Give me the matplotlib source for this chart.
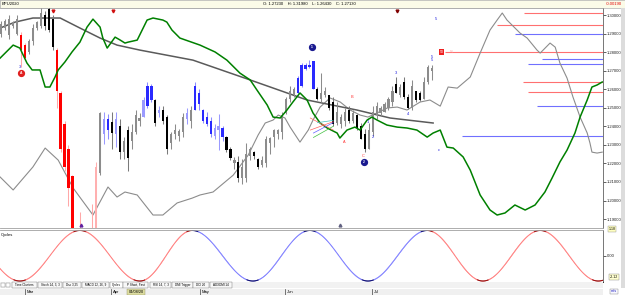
import numpy as np
import matplotlib
matplotlib.use("Agg")
import matplotlib.pyplot as plt
from matplotlib.patches import Rectangle

plt.rcParams['font.family'] = ['Liberation Sans', 'DejaVu Sans']

# ---------------- data ----------------
symbol = "BPU2020"
header_ohlc = "O: 1.27230    H: 1.31980    L: 1.26430    C: 1.27130"
header_change = "-0.00190"

opens = [1.290, 1.293, 1.298, 1.294, 1.298, 1.289, 1.284, 1.280, 1.286, 1.293,
         1.294, 1.300, 1.303, 1.298, 1.281, 1.258, 1.241, 1.228, 1.213, 1.178,
         1.175, 1.168, 1.172, 1.170, 1.180, 1.215, 1.236, 1.244, 1.2425, 1.236,
         1.240, 1.226, 1.238, 1.232, 1.237, 1.243, 1.245, 1.251, 1.262, 1.254,
         1.247, 1.249, 1.245, 1.231, 1.236, 1.235, 1.237, 1.244, 1.243, 1.249,
         1.258, 1.249, 1.245, 1.243, 1.235, 1.240, 1.239, 1.234, 1.228, 1.220,
         1.221, 1.212, 1.212, 1.224, 1.226, 1.2225, 1.219, 1.220, 1.231, 1.234,
         1.236, 1.237, 1.247, 1.255, 1.257, 1.258, 1.262, 1.271, 1.273, 1.275,
         1.260, 1.255, 1.257, 1.257, 1.253, 1.242, 1.241, 1.243, 1.249, 1.243,
         1.246, 1.240, 1.236, 1.228, 1.237, 1.246, 1.247, 1.248, 1.250, 1.253,
         1.263, 1.257, 1.264, 1.256, 1.250, 1.259, 1.258, 1.2545, 1.264, 1.270]
highs = [1.297, 1.298, 1.300, 1.297, 1.300, 1.291, 1.285, 1.287, 1.295, 1.297,
         1.3037, 1.302, 1.310, 1.300, 1.282, 1.259, 1.243, 1.230, 1.214, 1.183,
         1.194, 1.180, 1.183, 1.198, 1.221, 1.248, 1.2476, 1.2465, 1.2476, 1.2476,
         1.244, 1.234, 1.240, 1.241, 1.249, 1.247, 1.256, 1.264, 1.2626, 1.255,
         1.251, 1.251, 1.246, 1.237, 1.241, 1.2385, 1.247, 1.250, 1.251, 1.264,
         1.260, 1.2492, 1.2476, 1.2449, 1.2412, 1.2465, 1.240, 1.235, 1.229, 1.2235,
         1.224, 1.2225, 1.231, 1.229, 1.2265, 1.223, 1.224, 1.235, 1.234, 1.2385,
         1.2385, 1.2476, 1.256, 1.2615, 1.261, 1.267, 1.274, 1.2743, 1.276, 1.275,
         1.261, 1.269, 1.261, 1.257, 1.256, 1.253, 1.2465, 1.250, 1.251, 1.249,
         1.2465, 1.242, 1.2385, 1.242, 1.251, 1.253, 1.251, 1.253, 1.256, 1.2615,
         1.2668, 1.2626, 1.2668, 1.2572, 1.265, 1.259, 1.259, 1.2668, 1.2733, 1.2733]
lows = [1.288, 1.292, 1.287, 1.293, 1.289, 1.272, 1.276, 1.279, 1.284, 1.292,
        1.293, 1.292, 1.291, 1.281, 1.250, 1.226, 1.216, 1.197, 1.170, 1.150,
        1.160, 1.150, 1.155, 1.160, 1.170, 1.214, 1.2305, 1.233, 1.2278, 1.229,
        1.2225, 1.2225, 1.216, 1.228, 1.236, 1.240, 1.245, 1.250, 1.253, 1.240,
        1.245, 1.241, 1.225, 1.228, 1.233, 1.232, 1.234, 1.241, 1.239, 1.249,
        1.249, 1.242, 1.240, 1.234, 1.233, 1.227, 1.232, 1.226, 1.222, 1.217,
        1.210, 1.209, 1.210, 1.222, 1.2225, 1.217, 1.218, 1.218, 1.225, 1.229,
        1.233, 1.233, 1.2465, 1.253, 1.256, 1.257, 1.261, 1.2706, 1.2716, 1.2599,
        1.254, 1.253, 1.256, 1.249, 1.240, 1.2405, 1.239, 1.240, 1.242, 1.242,
        1.238, 1.233, 1.226, 1.2278, 1.235, 1.244, 1.2455, 1.2475, 1.249, 1.251,
        1.258, 1.256, 1.2545, 1.2492, 1.249, 1.253, 1.2535, 1.2545, 1.263, 1.2652]
closes = [1.295, 1.297, 1.289, 1.296, 1.290, 1.281, 1.277, 1.286, 1.293, 1.296,
          1.301, 1.294, 1.292, 1.283, 1.259, 1.228, 1.218, 1.207, 1.178, 1.160,
          1.168, 1.172, 1.165, 1.178, 1.218, 1.247, 1.244, 1.238, 1.2365, 1.244,
          1.226, 1.232, 1.223, 1.237, 1.246, 1.2445, 1.254, 1.262, 1.254, 1.242,
          1.249, 1.243, 1.228, 1.236, 1.238, 1.2375, 1.245, 1.247, 1.249, 1.262,
          1.252, 1.243, 1.241, 1.236, 1.239, 1.238, 1.234, 1.227, 1.223, 1.222,
          1.212, 1.218, 1.225, 1.228, 1.224, 1.218, 1.222, 1.233, 1.2335, 1.238,
          1.238, 1.246, 1.255, 1.259, 1.260, 1.266, 1.273, 1.273, 1.272, 1.260,
          1.255, 1.258, 1.259, 1.250, 1.241, 1.248, 1.245, 1.248, 1.243, 1.247,
          1.239, 1.233, 1.228, 1.238, 1.248, 1.251, 1.250, 1.252, 1.255, 1.259,
          1.258, 1.261, 1.256, 1.250, 1.262, 1.254, 1.254, 1.264, 1.272, 1.2712]
bar_colors = ("gggggrrggggkkk" "rrrrrrrrrr" "pg"
              "lbklkgkgggl" "bbklkkgggglgbbbbbllbkkgkggg"
              "kk" "ggggggggg" "bbbbb" "kggkkgggkgkkk" "ggggggg" "kgkkgkkggg")

ma_x = [-0.3, 3.5, 8.0, 14.9, 19.9, 25.0, 29.3, 35.1, 48.5, 63.0, 77.4, 90.0, 98.4, 109.3]
ma_y = [1.2930, 1.2962, 1.2984, 1.2984, 1.2930, 1.2876, 1.2838, 1.2811, 1.2757,
        1.2650, 1.2542, 1.2488, 1.2445, 1.2418]

osc_x = [-0.3, 3.0, 8.0, 11.1, 14.4, 18.2, 23.2, 27.0, 29.3, 31.3, 34.4, 38.4, 40.9,
         44.5, 48.3, 50.3, 53.6, 58.7, 62.5, 65.0, 66.8, 68.8, 70.1, 71.8, 73.1, 75.6,
         77.7, 78.9, 80.7, 83.2, 85.8, 88.3, 90.8, 92.8, 95.1, 97.7, 100.2, 102.7,
         106.0, 108.5, 111.1, 113.1, 115.4, 118.7, 121.2, 123.7, 125.5, 126.8, 128.0,
         131.3, 133.1, 135.6, 136.4, 138.9, 140.2, 141.4, 143.2, 144.7, 146.5, 148.3,
         149.0, 149.5, 150.8, 152.1]
osc_y = [1.2127, 1.2057, 1.2181, 1.2283, 1.2218, 1.2067, 1.1922, 1.2073, 1.2019,
         1.2046, 1.2030, 1.1922, 1.1922, 1.1987, 1.2013, 1.2030, 1.2046, 1.2137,
         1.2245, 1.2353, 1.2418, 1.2434, 1.2461, 1.2445, 1.2396, 1.2315, 1.2380,
         1.2434, 1.2504, 1.2553, 1.2531, 1.2488, 1.2461, 1.2450, 1.2472, 1.2499,
         1.2504, 1.2488, 1.2531, 1.2542, 1.2509, 1.2612, 1.2606, 1.2666, 1.2795,
         1.2919, 1.2973, 1.3011, 1.2973, 1.2903, 1.2876, 1.2811, 1.2795, 1.2849,
         1.2827, 1.2741, 1.2660, 1.2558, 1.2450, 1.2364, 1.2310, 1.2261, 1.2256, 1.2261]

green_x = [-0.3, 3.0, 4.7, 6.5, 7.8, 9.8, 11.1, 12.3, 13.6, 14.4, 16.1, 17.9, 19.9,
           21.7, 23.2, 25.0, 25.7, 26.8, 28.8, 30.1, 31.3, 32.1, 34.4, 36.9, 38.4,
           40.9, 41.9, 43.2, 45.2, 50.3, 54.1, 57.1, 60.4, 63.0, 64.7, 67.3, 68.8,
           70.6, 72.3, 73.8, 75.6, 77.4, 78.9, 80.7, 82.5, 85.0, 85.7, 87.5, 89.5,
           90.8, 92.6, 93.8, 95.1, 97.6, 100.2, 102.7, 105.2, 107.8, 109.3, 111.1,
           112.8, 114.4, 116.9, 118.7, 121.2, 123.7, 125.5, 127.5, 130.0, 132.6,
           135.1, 137.6, 139.4, 141.4, 143.2, 145.2, 146.5, 148.3, 149.5, 150.8, 152.1]
green_y = [1.2768, 1.2838, 1.2822, 1.2741, 1.2704, 1.2704, 1.2612, 1.2612, 1.2666,
           1.2704, 1.2747, 1.2801, 1.2854, 1.2935, 1.2978, 1.2935, 1.2876, 1.2822,
           1.2881, 1.2865, 1.2849, 1.2854, 1.2865, 1.2973, 1.2984, 1.2973, 1.2962,
           1.2919, 1.2876, 1.2838, 1.2801, 1.2757, 1.2687, 1.2650, 1.2596, 1.2515,
           1.2450, 1.2445, 1.2488, 1.2531, 1.2580, 1.2542, 1.2472, 1.2418, 1.2391,
           1.2364, 1.2337, 1.2380, 1.2396, 1.2380, 1.2434, 1.2450, 1.2434, 1.2407,
           1.2396, 1.2391, 1.2380, 1.2342, 1.2364, 1.2380, 1.2288, 1.2283, 1.2235,
           1.2164, 1.2030, 1.1949, 1.1922, 1.1933, 1.1976, 1.1949, 1.1976, 1.2046,
           1.2121, 1.2208, 1.2272, 1.2364, 1.2450, 1.2542, 1.2612, 1.2623, 1.2639]

level_start = [132.3, 125.5, 130.0, 112.3, 136.9, 133.3, 132.1, 133.3, 135.6, 116.6]
level_price = [1.3011, 1.2946, 1.2898, 1.2801, 1.2763, 1.2736, 1.2639, 1.2585, 1.2509, 1.2348]
level_kind = ['r', 'r', 'b', 'r', 'b', 'b', 'r', 'r', 'b', 'b']

wave_labels = ['3', '5', '1', '2', '3', '4', '5', '5', 'c']
wave_x = [4.8, 109.0, 92.8, 94.1, 99.9, 103.0, 109.0, 110.1, 110.8]
wave_y = [1.2722, 1.2775, 1.2423, 1.2342, 1.2687, 1.2466, 1.2757, 1.2978, 1.2272]
abc_labels = ['A', 'B', 'C']
abc_x = [86.8, 88.8, 91.6]
abc_y = [1.2315, 1.2558, 1.2240]
circle_labels = ['A', '1', '2']
circle_x = [5.0, 78.7, 91.8]
circle_y = [1.2687, 1.2827, 1.2208]
circle_colors = ['#e02020', '#1a1a90', '#1a1a90']

price_ticks = [1.19, 1.20, 1.21, 1.22, 1.23, 1.24, 1.25, 1.26, 1.27, 1.28, 1.29, 1.30]

cyc_turn_x = [-10.5, 4.7, 19.9, 35.1, 48.3, 63.7, 78.1, 92.8, 107.8, 121.9, 136.4, 151.1, 166.0]
cyc_turn_v = [2.12, -2.12, 2.12, -2.12, 2.12, -2.12, 2.12, -2.12, 2.12, -2.12, 2.12, -2.12, 2.12]
cyc_blue_from, cyc_blue_to = 48.3, 107.8

month_names = ['Mar', 'Apr', 'May', 'Jun', 'Jul']
month_bars = [6.0, 27.8, 50.3, 71.8, 93.8]
cursor_date = '04/08/20'
cursor_bar = 34.1

tab_names = ['Time Clusters', 'Stoch 14, 3, 3', 'Dsc 3,25', 'MACD 12, 26, 9', 'Cycles',
             'P Short, Fast', 'RSI 14, 7, 3', 'DMI Trigger', 'DCI 20', 'ADXDMI 14']

# ---------------- layout helpers ----------------
W, H = 625, 295
fig = plt.figure(figsize=(W / 100, H / 100), dpi=100)
fig.patch.set_facecolor('white')


def box(x0, y0, x1, y1):
    return [x0 / W, 1 - y1 / H, (x1 - x0) / W, (y1 - y0) / H]


def fx(px):
    return px / W


def fy(py):
    return 1 - py / H


XL = (-0.33, 152.3)

# ---------------- header ----------------
hdr = fig.add_axes(box(0, 0, 625, 7.5))
hdr.set_facecolor('#fbfbe8')
hdr.set_xticks([]); hdr.set_yticks([])
for s in hdr.spines.values():
    s.set_color('#b0b0b0'); s.set_linewidth(0.5)
hdr.text(2 / 625, 0.5, symbol, fontsize=3, va='center', ha='left', transform=hdr.transAxes)
hdr.text(263 / 625, 0.5, header_ohlc, fontsize=3, va='center', ha='left', transform=hdr.transAxes)
hdr.text(622 / 625, 0.5, header_change, fontsize=3, va='center', ha='right', color='#e00000',
         transform=hdr.transAxes)

# ---------------- main price panel ----------------
ax = fig.add_axes(box(0, 8, 603, 228))
ax.set_xlim(*XL)
ax.set_ylim(1.1852, 1.3038)
ax.spines['left'].set_visible(False)
ax.spines['top'].set_color('#a0a0a0')
ax.spines['bottom'].set_color('#a0a0a0')
ax.spines['right'].set_color('#606060')
for s in ax.spines.values():
    s.set_linewidth(0.6)
ax.tick_params(axis='x', bottom=False, labelbottom=False)
ax.yaxis.tick_right()
ax.set_yticks(price_ticks)
ax.set_yticklabels(['%.5f' % p for p in price_ticks])
ax.tick_params(axis='y', labelsize=3, length=2, width=0.5, pad=1, colors='#202020')

colmap = {'g': ('#8c8c8c', '#8c8c8c'), 'k': ('#000000', '#7a7a7a'),
          'b': ('#2a2aff', '#8c8cff'), 'l': ('#9a9aff', '#9a9aff'),
          'r': ('#ff0000', '#ffa8a8'), 'p': ('#ffb0b0', '#ffb0b0')}

# horizontal projection levels
for xs, pr, kd in zip(level_start, level_price, level_kind):
    ax.plot([xs, XL[1]], [pr, pr], color='#ff7070' if kd == 'r' else '#7070ff', lw=0.8,
            solid_capstyle='butt', zorder=1)

ax.plot(osc_x, osc_y, color='#8c8c8c', lw=0.8, zorder=2)
ax.plot(ma_x, ma_y, color='#5a5a5a', lw=1.1, zorder=2)

for i, (o, h, l, c, k) in enumerate(zip(opens, highs, lows, closes, bar_colors)):
    body, wick = colmap[k]
    ax.vlines(i, l, h, color=wick, lw=0.75, zorder=3)
    ax.add_patch(Rectangle((i - 0.28, min(o, c)), 0.56, max(abs(c - o), 0.0004),
                           facecolor=body, edgecolor='none', zorder=4))

ax.plot(green_x, green_y, color='#008000', lw=1.1, zorder=5)

# small fan marks
ax.plot([78.2, 84.0], [1.2445, 1.2380], color='#ff6060', lw=0.5, zorder=5)
ax.plot([78.2, 84.0], [1.2380, 1.2425], color='#ff6060', lw=0.5, zorder=5)
ax.plot([79.0, 84.0], [1.2364, 1.2420], color='#6060ff', lw=0.5, zorder=5)
ax.plot([79.0, 84.0], [1.2340, 1.2400], color='#40c040', lw=0.5, zorder=5)
ax.plot([80.0, 84.0], [1.2420, 1.2432], color='#40c0c0', lw=0.5, zorder=5)

# red level label
ax.text(111.5, 1.2801, '50', fontsize=2.6, color='white', ha='center', va='center', zorder=7,
        bbox=dict(boxstyle='square,pad=0.15', fc='#ee2020', ec='none'))
ax.text(113.6, 1.2801, '%', fontsize=2.6, color='#ff9090', ha='left', va='center', zorder=7)

for lab, x, y in zip(wave_labels, wave_x, wave_y):
    ax.text(x, y, lab, fontsize=3, color='#2020e0', ha='center', va='center', zorder=7)
for lab, x, y in zip(abc_labels, abc_x, abc_y):
    ax.text(x, y, lab, fontsize=2.8, color='#ff3030', ha='center', va='center', zorder=7)
for lab, x, y, c in zip(circle_labels, circle_x, circle_y, circle_colors):
    ax.plot(x, y, 'o', ms=4.2, mfc=c, mec=c, zorder=8)
    ax.text(x, y, lab, fontsize=2.4, color='white', ha='center', va='center', zorder=9,
            fontweight='bold')

ax.plot([13.1, 28.3], [1.3023, 1.3023], 'v', ms=2, color='#d01010', zorder=8, ls='none')
ax.plot([100.2], [1.3023], 'v', ms=2, color='#800000', zorder=8)
ax.plot([20.2], [1.1870], '^', ms=2, color='#6020a0', zorder=8)
ax.plot([85.7], [1.1870], '^', ms=2, color='#606080', zorder=8)

# ---------------- cycles panel ----------------
cx = fig.add_axes(box(0, 230, 603, 281.5))
cx.set_xlim(*XL)
cx.set_ylim(-2.16, 2.16)
cx.spines['left'].set_visible(False)
cx.spines['top'].set_color('#a0a0a0')
cx.spines['bottom'].set_color('#202020')
cx.spines['right'].set_color('#606060')
for s in cx.spines.values():
    s.set_linewidth(0.6)
cx.tick_params(axis='x', bottom=False, labelbottom=False)
cx.yaxis.tick_right()
cx.set_yticks([0])
cx.set_yticklabels(['0.00'])
cx.tick_params(axis='y', labelsize=3, length=2, width=0.5, pad=1, colors='#202020')
cx.text(0.002, 0.90, 'Cycles', fontsize=3, ha='left', va='center', transform=cx.transAxes)

for j in range(len(cyc_turn_x) - 1):
    x0, x1 = cyc_turn_x[j], cyc_turn_x[j + 1]
    v0, v1 = cyc_turn_v[j], cyc_turn_v[j + 1]
    t = np.linspace(0, 1, 60)
    xs = x0 + (x1 - x0) * t
    vs = v0 + (v1 - v0) * (1 - np.cos(np.pi * t)) / 2
    for a in range(len(t) - 1):
        xm = 0.5 * (xs[a] + xs[a + 1])
        vm = 0.5 * (vs[a] + vs[a + 1])
        blue = cyc_blue_from <= xm < cyc_blue_to
        dark = abs(vm) > 2.02
        if blue:
            col = '#10107a' if dark else '#8484ff'
        else:
            col = '#a01010' if dark else '#ff8484'
        cx.plot(xs[a:a + 2], vs[a:a + 2], color=col, lw=0.75, solid_capstyle='round')

fig.text(fx(614), fy(277), '-2.12', fontsize=2.6, ha='center', va='center',
         bbox=dict(boxstyle='square,pad=0.2', fc='#ffffd0', ec='#808080', lw=0.3))

# price box at bottom of main panel
fig.text(fx(612), fy(229), '1.18', fontsize=2.6, ha='center', va='center',
         bbox=dict(boxstyle='square,pad=0.2', fc='#ffffc0', ec='#909090', lw=0.3))

# right strip
fig.add_artist(Rectangle((fx(621), fy(288)), 4 / W, 280 / H, transform=fig.transFigure,
                         facecolor='#dcdcdc', edgecolor='none'))

# ---------------- tab bar ----------------
fig.add_artist(Rectangle((0, fy(288)), 603 / W, 6.5 / H, transform=fig.transFigure,
                         facecolor='#f2f2f2', edgecolor='none'))
fig.add_artist(Rectangle((fx(1), fy(287)), 4 / W, 4.5 / H, transform=fig.transFigure,
                         facecolor='white', edgecolor='#808080', lw=0.3))
fig.add_artist(Rectangle((fx(6), fy(287)), 4 / W, 4.5 / H, transform=fig.transFigure,
                         facecolor='white', edgecolor='#808080', lw=0.3))
tab_px = [(12, 37), (38, 62), (63, 81), (82, 109), (110, 123), (123, 148), (150, 171),
          (172, 193), (193, 209), (210, 232)]
for name, (a, b) in zip(tab_names, tab_px):
    fig.add_artist(Rectangle((fx(a), fy(287.5)), (b - a) / W, 5.5 / H, transform=fig.transFigure,
                             facecolor='white' if name == 'Cycles' else '#f8f8f8',
                             edgecolor='#707070', lw=0.3))
    fig.text(fx((a + b) / 2), fy(284.8), name, fontsize=2.2, ha='center', va='center')

# ---------------- date axis ----------------
dx = fig.add_axes(box(0, 288.5, 603, 295))
dx.set_xlim(*XL)
dx.set_ylim(0, 1)
dx.set_facecolor('#f0f0f0')
dx.set_xticks([]); dx.set_yticks([])
for s in dx.spines.values():
    s.set_visible(False)
for name, xb in zip(month_names, month_bars):
    dx.axvline(xb, color='#404040', lw=0.5)
    dx.text(xb + 0.4, 0.45, name, fontsize=3, ha='left', va='center')
dx.text(cursor_bar, 0.45, cursor_date, fontsize=2.8, ha='center', va='center',
        bbox=dict(boxstyle='square,pad=0.25', fc='#dcdca0', ec='#909060', lw=0.3))
fig.text(fx(614), fy(291.5), 'm/s', fontsize=2.8, color='#2020c0', ha='center', va='center',
         bbox=dict(boxstyle='square,pad=0.2', fc='#f8f8ff', ec='#808080', lw=0.3))

fig.savefig('out.png', dpi=100)
